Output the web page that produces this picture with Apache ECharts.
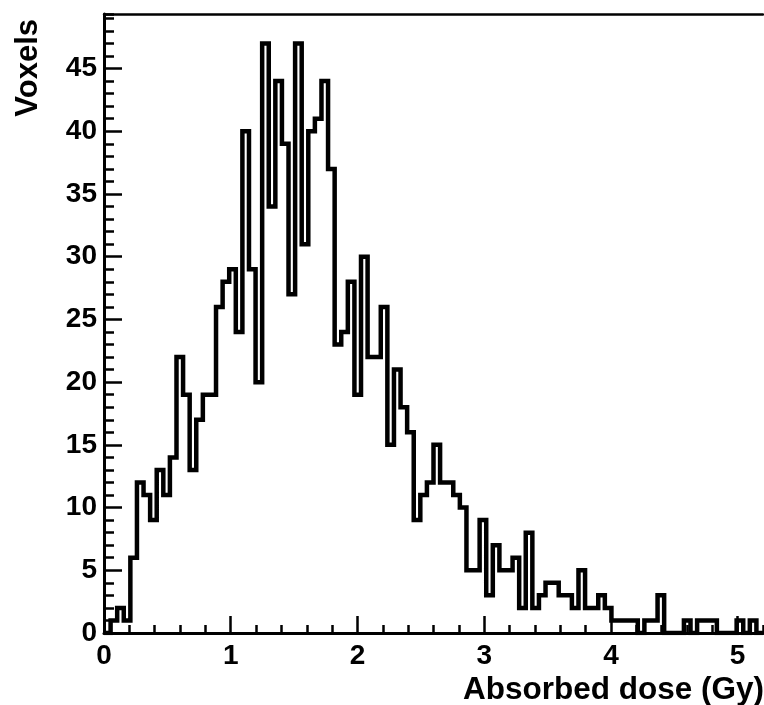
<!DOCTYPE html>
<html>
<head>
<meta charset="utf-8">
<script src="https://cdn.jsdelivr.net/npm/echarts@6/dist/echarts.min.js"></script>
<style>
html,body{margin:0;padding:0;background:#fff;}
#chart{width:764px;height:705px;}
</style>
</head>
<body>
<div id="chart"></div>
<script>
// Histogram: 100 bins from 0 to 5.2 Gy
const xMin = 0;
const xMax = 5.2;
const binCount = 100;
const counts = [
  0, 1, 2, 1, 6, 12, 11, 9, 13, 11,
  14, 22, 19, 13, 17, 19, 19, 26, 28, 29,
  24, 40, 29, 20, 47, 34, 44, 39, 27, 47,
  31, 40, 41, 44, 37, 23, 24, 28, 19, 30,
  22, 22, 26, 15, 21, 18, 16, 9, 11, 12,
  15, 12, 12, 11, 10, 5, 5, 9, 3, 7,
  5, 5, 6, 2, 8, 2, 3, 4, 4, 3,
  3, 2, 5, 2, 2, 3, 2, 1, 1, 1,
  1, 0, 1, 1, 3, 0, 0, 0, 1, 0,
  1, 1, 1, 0, 0, 0, 1, 0, 1, 0
];
const xTicks = [0, 1, 2, 3, 4, 5];
const yTicks = [0, 5, 10, 15, 20, 25, 30, 35, 40, 45];
const yMax = 49.35;
const xTitle = 'Absorbed dose (Gy)';
const yTitle = 'Voxels';

const binWidth = (xMax - xMin) / binCount;
const stepData = counts.map((c, i) => [xMin + i * binWidth, c]);
stepData.push([xMax, counts[counts.length - 1]]);

const FONT = 'Liberation Sans, Arial, Helvetica, sans-serif';
const gridBox = {left: 104, top: 14, right: 1, bottom: 72, show: false};
const chart = echarts.init(document.getElementById('chart'), null, {renderer: 'canvas'});
chart.setOption({
  animation: false,
  backgroundColor: '#fff',
  grid: [
    Object.assign({}, gridBox),
    Object.assign({}, gridBox),
    Object.assign({}, gridBox)
  ],
  xAxis: [{
    gridIndex: 0, type: 'value', min: xMin, max: xMax, interval: 1, position: 'bottom',
    axisLine: {show: true, onZero: false, lineStyle: {color: '#000', width: 3}},
    axisTick: {show: true, inside: true, length: 17, lineStyle: {color: '#000', width: 2.5}},
    axisLabel: {
      show: true, margin: 9, color: '#000', fontWeight: 'bold', fontSize: 28, fontFamily: FONT,
      showMaxLabel: false,
      formatter: v => (xTicks.indexOf(Math.round(v * 1000) / 1000) >= 0 ? String(v) : '')
    },
    splitLine: {show: false}
  }, {
    gridIndex: 1, type: 'value', min: xMin, max: xMax, interval: 0.2, position: 'bottom',
    axisLine: {show: false, onZero: false},
    axisTick: {show: true, inside: true, length: 8, lineStyle: {color: '#000', width: 2.5}},
    axisLabel: {show: false},
    splitLine: {show: false}
  }, {
    gridIndex: 2, type: 'value', min: xMin, max: xMax, position: 'top',
    axisLine: {show: true, onZero: false, lineStyle: {color: '#000', width: 2.5}},
    axisTick: {show: false},
    axisLabel: {show: false},
    splitLine: {show: false}
  }],
  yAxis: [{
    gridIndex: 0, type: 'value', min: 0, max: yMax, interval: 5, position: 'left',
    axisLine: {show: true, onZero: false, lineStyle: {color: '#000', width: 3}},
    axisTick: {show: true, inside: true, length: 18, lineStyle: {color: '#000', width: 2.5}},
    axisLabel: {
      show: true, margin: 7, color: '#000', fontWeight: 'bold', fontSize: 28, fontFamily: FONT,
      showMaxLabel: false,
      formatter: v => (yTicks.indexOf(v) >= 0 ? String(v) : '')
    },
    splitLine: {show: false}
  }, {
    gridIndex: 1, type: 'value', min: 0, max: yMax, interval: 1, position: 'left',
    axisLine: {show: false, onZero: false},
    axisTick: {show: true, inside: true, length: 10, lineStyle: {color: '#000', width: 2.5}},
    axisLabel: {show: false},
    splitLine: {show: false}
  }, {
    gridIndex: 2, type: 'value', min: 0, max: yMax, position: 'left',
    axisLine: {show: false, onZero: false},
    axisTick: {show: false},
    axisLabel: {show: false},
    splitLine: {show: false}
  }],
  series: [{
    type: 'line',
    xAxisIndex: 0, yAxisIndex: 0,
    data: stepData,
    step: 'end',
    showSymbol: false,
    symbol: 'none',
    lineStyle: {color: '#000', width: 4.5, join: 'miter', cap: 'butt'},
    clip: true
  }],
  graphic: [{
    type: 'text', x: 764, y: 690,
    style: {text: xTitle, align: 'right', verticalAlign: 'middle', fill: '#000', font: 'bold 31.5px ' + FONT}
  }, {
    type: 'text', x: 28, y: 19, rotation: Math.PI / 2,
    style: {text: yTitle, align: 'right', verticalAlign: 'middle', fill: '#000', font: 'bold 31px ' + FONT}
  }]
});
</script>
</body>
</html>
